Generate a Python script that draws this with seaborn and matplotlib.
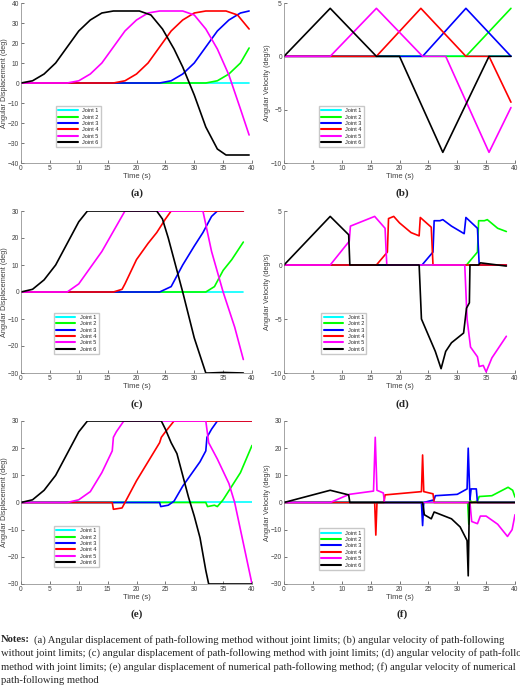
import matplotlib
matplotlib.use("Agg")
import matplotlib.pyplot as plt
import seaborn as sns
import pandas as pd

sns.set_theme(style="ticks")
plt.rcParams['font.family'] = ['Liberation Sans', 'DejaVu Sans']

joints = ["Joint 1", "Joint 2", "Joint 3", "Joint 4", "Joint 5", "Joint 6"]
colors = ["#00FFFF", "#00FF00", "#0000FF", "#FF0000", "#FF00FF", "#000000"]

# ---- (a) displacement, no limits
a_t1 = [0, 39.5]; a_v1 = [0, 0]
a_t2 = [0, 32, 34, 36, 38, 39.5]; a_v2 = [0, 0, 1.1, 4.5, 10, 17.5]
a_t3 = [0, 24, 26, 28, 30, 32, 34, 36, 38, 39.5]; a_v3 = [0, 0, 1.1, 4.5, 10, 18, 26, 31.5, 35, 36]
a_t4 = [0, 16, 18, 20, 22, 24, 26, 28, 30, 32, 35.5, 37.5, 39.5]; a_v4 = [0, 0, 1.1, 4.5, 10, 18, 26, 31.5, 35, 36, 36, 34, 27]
a_t5 = [0, 8, 10, 12, 14, 16, 18, 20, 22, 24, 28, 30, 32, 34, 36, 38, 39.5]
a_v5 = [0, 0, 1.1, 4.5, 10, 18, 26, 31.5, 35, 36, 36, 34, 27, 17, 4, -13, -26]
a_t6 = [0, 2, 4, 6, 8, 10, 12, 14, 16, 20.5, 22.5, 24.5, 26.5, 28, 30, 32, 34, 35.5, 39.5]
a_v6 = [0, 1.1, 4.5, 10, 18, 26, 31.5, 35, 36, 36, 34, 27, 17, 8, -6, -22, -33, -36, -36]

# ---- (b) velocity, no limits
b_t1 = [0, 39.3]; b_v1 = [0, 0]
b_t2 = [0, 31.5, 39.3]; b_v2 = [0, 0, 4.5]
b_t3 = [0, 24, 31.5, 39.3]; b_v3 = [0, 0, 4.5, 0]
b_t4 = [0, 16, 23.7, 31.5, 35.5, 39.3]; b_v4 = [0, 0, 4.5, 0, 0, -4.3]
b_t5 = [0, 8, 16, 24, 28, 35.5, 39.3]; b_v5 = [0, 0, 4.5, 0, 0, -9, -4.8]
b_t6 = [0, 8, 16, 20, 27.5, 35.5, 39.3]; b_v6 = [0, 4.5, 0, 0, -9, 0, 0]

# ---- (c) displacement, with limits
c_t1 = [0, 38.5]; c_v1 = [0, 0]
c_t2 = [0, 32, 33.5, 35, 36.5, 38.5]; c_v2 = [0, 0, 2, 8, 12, 18.5]
c_t3 = [0, 24, 25, 26, 28, 30, 31.5, 33, 34, 38.5]; c_v3 = [0, 0, 1, 2, 10, 17, 22, 28, 30, 30]
c_t4 = [0, 16, 17.5, 18, 20, 22, 23.5, 25, 26, 38.5]; c_v4 = [0, 0, 1, 3, 12, 18, 22, 27, 30, 30]
c_t5 = [0, 8, 10, 14, 18, 31.5, 33, 35, 37, 38.5]; c_v5 = [0, 0, 3, 15, 30, 30, 15, 0, -13, -25]
c_t6 = [0, 2, 4, 6, 8, 10, 11.5, 23.5, 24.5, 25.5, 27, 28, 30, 32, 32.5, 35, 38.5]
c_v6 = [0, 1, 4.5, 10, 18, 26, 30, 30, 27, 20, 8, 0, -17, -30, -30, -29.8, -30]

# ---- (d) velocity, with limits
d_t1 = [0, 38.5]; d_v1 = [0, 0]
d_t2 = [0, 31.6, 33.5, 33.7, 34.7, 35.2, 37, 38.5]; d_v2 = [0, 0, 1.2, 4.1, 4.1, 4.2, 3.4, 3.1]
d_t3 = [0, 23.9, 25.8, 26, 27, 27.5, 29, 31.2, 31.5, 33.5, 33.8, 38.5]
d_v3 = [0, 0, 1.2, 4.1, 4.1, 4.2, 3.6, 2.9, 4.4, 3.4, 0, 0]
d_t4 = [0, 16, 17.9, 18.1, 19, 20, 22, 23.4, 23.6, 25.5, 25.8, 38.5]
d_v4 = [0, 0, 1.2, 4.3, 4.5, 3.9, 3.0, 2.7, 4.4, 3.5, 0, 0]
d_t5 = [0, 8, 11.3, 11.5, 15.7, 17.5, 17.8, 31.3, 31.7, 32.3, 33.5, 33.8, 34.5, 35, 36, 38.5]
d_v5 = [0, 0, 2.2, 3.6, 4.5, 3.4, 0, 0, -5, -7.6, -8.5, -9.4, -9.3, -9.9, -8.6, -6.6]
d_t6 = [0, 8, 11.2, 11.4, 23.4, 23.8, 25, 26.2, 27.2, 28, 29, 31.1, 31.6, 32.1, 32.2, 33.7, 34, 38.5]
d_v6 = [0, 4.5, 2.8, 0, 0, -5, -6.5, -8, -9.6, -8, -7.2, -6.3, -4, -3.5, 0, 0, 0.2, -0.1]

# ---- (e) displacement, numerical
e_t1 = [0, 40]; e_v1 = [0, 0]
e_t2 = [0, 32, 32.3, 33.5, 34, 35, 36.5, 38, 40]; e_v2 = [0, 0, -1.5, -1, -1.5, 1, 6, 11, 21]
e_t3 = [0, 24, 24.2, 25.5, 26.5, 28, 30, 31, 32, 32.2, 33, 34, 40]
e_v3 = [0, 0, -1.5, -1, 0.5, 6, 12, 15, 19, 24, 27, 30, 30]
e_t4 = [0, 15.8, 16, 17.5, 18.5, 20, 22, 24, 24.3, 25, 26.5, 40]
e_v4 = [0, 0, -2.5, -2, 2, 8, 15, 22, 24, 26, 30, 30]
e_t5 = [0, 8, 10, 12, 14, 15.8, 16, 16.5, 17.8, 32, 32.5, 34, 36, 37, 38, 40]
e_v5 = [0, 0, 1, 4, 11, 19, 24, 26, 30, 30, 22, 16, 7, 0, -10, -30]
e_t6 = [0, 2, 4, 6, 8, 10, 11.5, 24.3, 25, 26, 27, 28, 29, 30, 31, 32, 32.5, 40]
e_v6 = [0, 1, 4.5, 10, 18, 26, 30, 30, 27, 22, 18, 10, 2, -5, -13, -25, -30, -30]

# ---- (f) velocity, numerical
f_t1 = [0, 40]; f_v1 = [0, 0]
f_t2 = [0, 31.8, 32, 32.2, 32.5, 33.5, 33.8, 36, 38.8, 39.6, 40]
f_v2 = [0, 0, -8, 1, 0, 0.5, 2.2, 2.5, 5.6, 4.5, 2]
f_t3 = [0, 23.8, 24, 24.2, 26, 26.2, 30, 31.7, 31.9, 32.2, 32.4, 33.3, 33.5, 40]
f_v3 = [0, 0, -8.5, 0, 1, 2.5, 3, 5, 20, 1, 5, 5, 0, 0]
f_t4 = [0, 15.7, 15.9, 16.1, 17.3, 17.5, 23.8, 24, 24.2, 25.8, 26, 40]
f_v4 = [0, 0, -12, 0, 0, 2.8, 4, 17.5, 4, 3.2, 0, 0]
f_t5 = [0, 8, 11.3, 15.5, 15.8, 16.1, 17.2, 17.4, 32.2, 32.5, 33.5, 34, 35, 37, 38.7, 39.5, 40]
f_v5 = [0, 0, 3, 4.2, 24, 4.5, 3.5, 0, 0, -7, -7.8, -5, -5, -8, -12.5, -10, -4.5]
f_t6 = [0, 8, 11.2, 11.4, 24, 24.3, 25.5, 26, 29, 30.5, 31.7, 31.9, 32.1, 40]
f_v6 = [0, 4.5, 2.8, 0, 0, -4.5, -6, -3.5, -6, -9, -14, -27, 0, 0]

panels = {
    "a": ([a_t1, a_t2, a_t3, a_t4, a_t5, a_t6], [a_v1, a_v2, a_v3, a_v4, a_v5, a_v6]),
    "b": ([b_t1, b_t2, b_t3, b_t4, b_t5, b_t6], [b_v1, b_v2, b_v3, b_v4, b_v5, b_v6]),
    "c": ([c_t1, c_t2, c_t3, c_t4, c_t5, c_t6], [c_v1, c_v2, c_v3, c_v4, c_v5, c_v6]),
    "d": ([d_t1, d_t2, d_t3, d_t4, d_t5, d_t6], [d_v1, d_v2, d_v3, d_v4, d_v5, d_v6]),
    "e": ([e_t1, e_t2, e_t3, e_t4, e_t5, e_t6], [e_v1, e_v2, e_v3, e_v4, e_v5, e_v6]),
    "f": ([f_t1, f_t2, f_t3, f_t4, f_t5, f_t6], [f_v1, f_v2, f_v3, f_v4, f_v5, f_v6]),
}
ylims = {"a": (-40, 40, 10), "b": (-10, 5, 5), "c": (-30, 30, 10),
         "d": (-10, 5, 5), "e": (-30, 30, 10), "f": (-30, 30, 10)}
ylabels = {"a": "Angular Displacement (deg)", "b": "Angular Velocity (deg/s)",
           "c": "Angular Displacement (deg)", "d": "Angular Velocity (deg/s)",
           "e": "Angular Displacement (deg)", "f": "Angular Velocity (deg/s)"}

W, H = 520, 686
fig = plt.figure(figsize=(W / 100, H / 100), dpi=100)
rows = {"a": (3, 163), "b": (3, 163), "c": (211, 373), "d": (211, 373), "e": (421, 584), "f": (421, 584)}
cols = {"a": 21, "c": 21, "e": 21, "b": 284, "d": 284, "f": 284}
leg_pos = {"a": (0.14, 0.08), "b": (0.14, 0.08), "c": (0.13, 0.10),
           "d": (0.15, 0.10), "e": (0.13, 0.085), "f": (0.14, 0.07)}
lab_y = {"a": 193, "b": 193, "c": 404, "d": 404, "e": 614, "f": 614}
lab_x = {"a": 137, "c": 137, "e": 137, "b": 402, "d": 402, "f": 402}

for key, (ts, vs) in panels.items():
    top, bot = rows[key]
    ax = fig.add_axes([cols[key] / W, 1 - bot / H, 231 / W, (bot - top) / H])
    frames = []
    for j, t, v in zip(joints, ts, vs):
        frames.append(pd.DataFrame({"t": t, "v": v, "joint": j}))
    df = pd.concat(frames, ignore_index=True)
    sns.lineplot(data=df, x="t", y="v", hue="joint", hue_order=joints, palette=colors,
                 sort=False, estimator=None, linewidth=1.2, ax=ax)
    lo, hi, st = ylims[key]
    ax.set_xlim(0, 40)
    ax.set_ylim(lo, hi)
    ax.set_xticks(range(0, 41, 5))
    ax.set_yticks(range(lo, hi + 1, st))
    ax.tick_params(labelsize=4.8, length=2, width=0.5, direction="in", colors="#404040", pad=1.5)
    for s in ["top", "right"]:
        ax.spines[s].set_visible(False)
    for s in ["left", "bottom"]:
        ax.spines[s].set_linewidth(0.5)
        ax.spines[s].set_color("#808080")
    ax.set_xlabel("Time (s)", fontsize=5.5, color="#404040", labelpad=1)
    ax.set_ylabel(ylabels[key], fontsize=5.2, color="#404040", labelpad=0)
    ax.legend(loc="lower left", bbox_to_anchor=leg_pos[key], fontsize=4, frameon=True,
              fancybox=False, edgecolor="#bbbbbb", handlelength=3.5, labelspacing=0.25,
              borderpad=0.4, handletextpad=0.8)
    for line in ax.get_legend().get_lines():
        line.set_linewidth(1.5)
    fig.text(lab_x[key] / W, 1 - lab_y[key] / H, f"({key})", ha="center", va="center",
             fontsize=8, fontweight="bold", family="Liberation Serif")

notes = [
    "(a) Angular displacement of path-following method without joint limits; (b) angular velocity of path-following",
    "without joint limits; (c) angular displacement of path-following method with joint limits; (d) angular velocity of path-following",
    "method with joint limits; (e) angular displacement of numerical path-following method; (f) angular velocity of numerical",
    "path-following method",
]
ys = [640, 653.5, 667, 680.5]
fig.text(1 / W, 1 - ys[0] / H, "Notes:", fontsize=7.7, fontweight="bold",
         family="Liberation Serif", va="center")
fig.text(34 / W, 1 - ys[0] / H, notes[0], fontsize=7.7, family="Liberation Serif", va="center")
for n, y in zip(notes[1:], ys[1:]):
    fig.text(1 / W, 1 - y / H, n, fontsize=7.7, family="Liberation Serif", va="center")

fig.savefig("out.png", dpi=100)
